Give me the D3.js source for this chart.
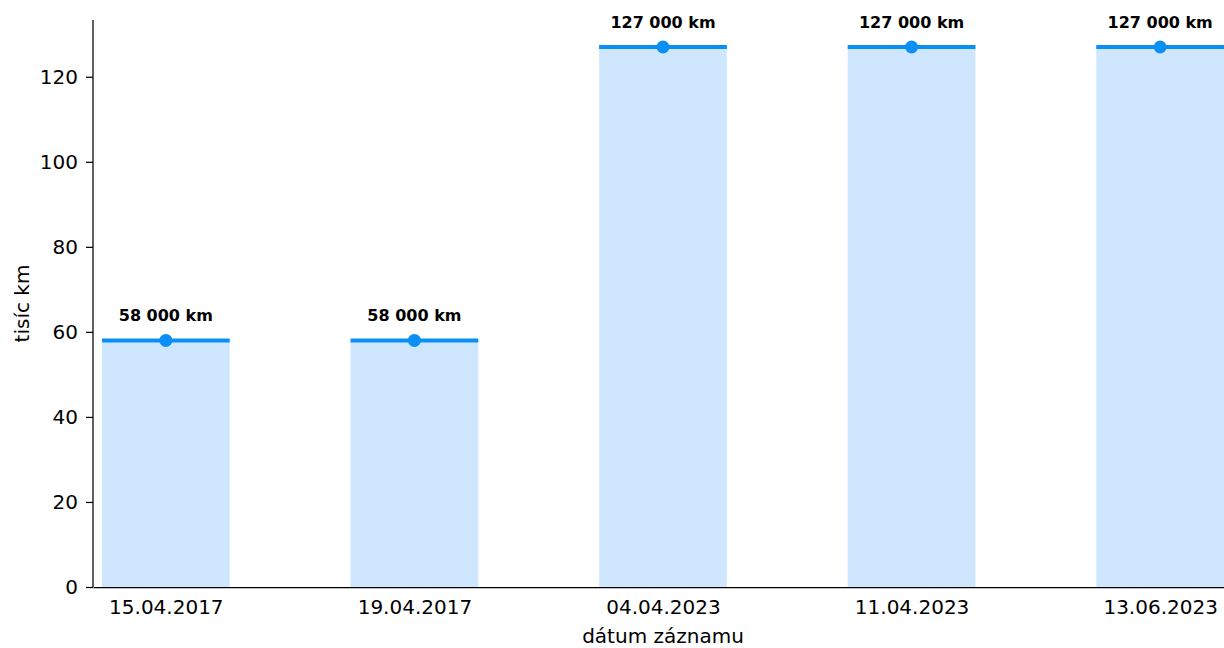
<!DOCTYPE html>
<html>
  <head>
    <meta charset="utf-8">
    <title>Najazdené km</title>
    <script src="https://d3js.org/d3.v7.min.js"></script>
    <style>
      body { margin: 0; background: #fff; }
      svg, svg text { font-family: "DejaVu Sans", sans-serif; }
      .bar { fill: #1e90ff; fill-opacity: 0.22; }
      .topline { stroke: #0a8ff5; stroke-width: 4; }
      .dot { fill: #0a8ff5; }
      .val { font-weight: bold; font-size: 16px; text-anchor: middle; }
      .axis text { font-size: 20px; fill: #000; }
      .axis path, .axis line { stroke: #000; stroke-width: 1.25; }
      .title { font-size: 20px; }
    </style>
  </head>
  <body>
    <svg width="1224" height="648"></svg>
    <script>
      var dates = ["15.04.2017", "19.04.2017", "04.04.2023", "11.04.2023", "13.06.2023"];
      var kmThousands = [58, 58, 127, 127, 127];
      var valueLabels = ["58 000 km", "58 000 km", "127 000 km", "127 000 km", "127 000 km"];
      var yTicks = [0, 20, 40, 60, 80, 100, 120];

      var mLeft = 93, mRight = 1233, mTop = 20, mBottom = 587;
      var svg = d3.select("svg");

      var x = d3.scaleLinear().domain([-0.293, dates.length - 1 + 0.293]).range([mLeft, mRight]);
      var y = d3.scaleLinear().domain([0, 127 * 1.05]).range([mBottom, mTop]);
      var half = 0.257;

      svg.selectAll("rect.bar")
        .data(kmThousands)
        .enter()
        .append("rect")
          .attr("class", "bar")
          .attr("x", (d, i) => x(i - half))
          .attr("width", (d, i) => x(i + half) - x(i - half))
          .attr("y", d => y(d))
          .attr("height", d => y(0) - y(d));

      svg.selectAll("line.topline")
        .data(kmThousands)
        .enter()
        .append("line")
          .attr("class", "topline")
          .attr("x1", (d, i) => x(i - half))
          .attr("x2", (d, i) => x(i + half))
          .attr("y1", d => y(d))
          .attr("y2", d => y(d));

      svg.selectAll("circle.dot")
        .data(kmThousands)
        .enter()
        .append("circle")
          .attr("class", "dot")
          .attr("cx", (d, i) => x(i))
          .attr("cy", d => y(d))
          .attr("r", 6.5);

      svg.selectAll("text.val")
        .data(kmThousands)
        .enter()
        .append("text")
          .attr("class", "val")
          .attr("x", (d, i) => x(i))
          .attr("y", d => y(d) - 19)
          .text((d, i) => valueLabels[i]);

      // y axis
      var yAxis = svg.append("g")
        .attr("class", "axis")
        .attr("transform", `translate(${mLeft},0)`)
        .call(d3.axisLeft(y).tickValues(yTicks).tickSize(7).tickPadding(8).tickSizeOuter(0));
      yAxis.attr("font-family", null).attr("font-size", null);
      yAxis.select(".domain").attr("d", `M0,${mTop}V${mBottom}`);

      // x axis
      var xAxis = svg.append("g")
        .attr("class", "axis")
        .attr("transform", `translate(0,${mBottom})`)
        .call(d3.axisBottom(x).tickValues(d3.range(dates.length)).tickFormat(i => dates[i])
          .tickSize(0).tickPadding(13).tickSizeOuter(0));
      xAxis.attr("font-family", null).attr("font-size", null);

      svg.append("text")
        .attr("class", "title")
        .attr("transform", `translate(29,${(mTop + mBottom) / 2}) rotate(-90)`)
        .attr("text-anchor", "middle")
        .text("tisíc km");

      svg.append("text")
        .attr("class", "title")
        .attr("x", (mLeft + mRight) / 2)
        .attr("y", 643)
        .attr("text-anchor", "middle")
        .text("dátum záznamu");
    </script>
  </body>
</html>
